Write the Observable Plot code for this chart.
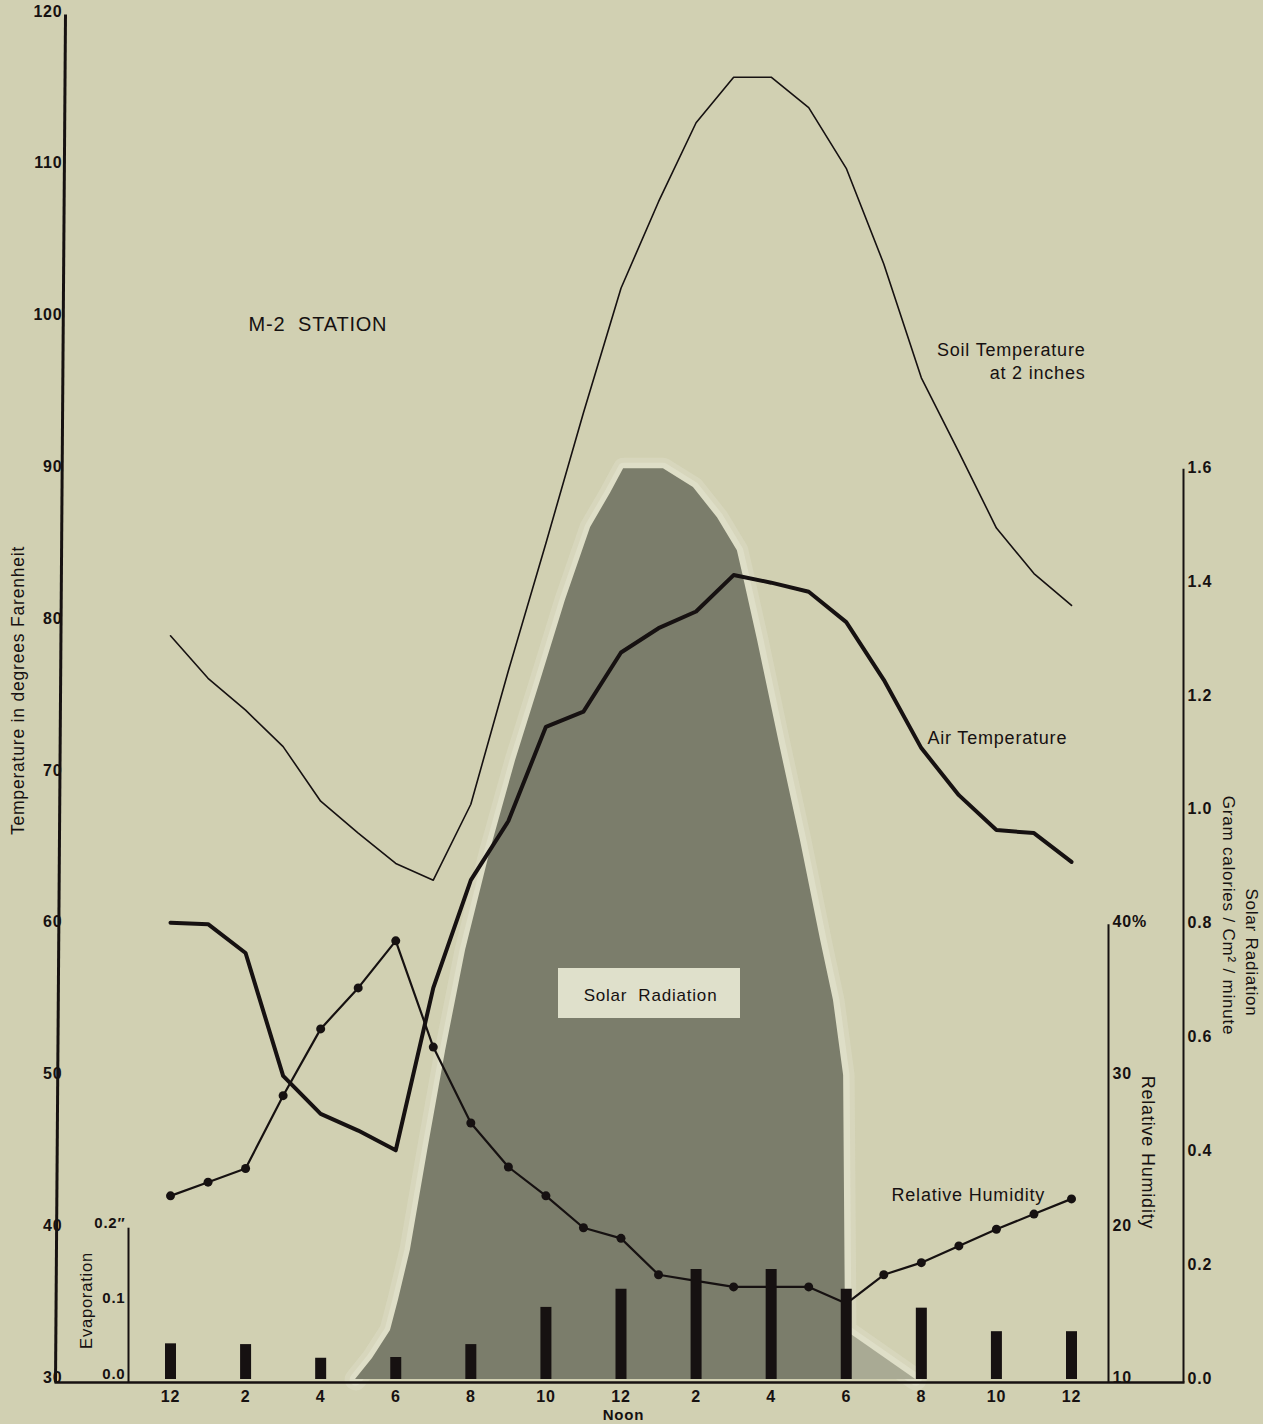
<!DOCTYPE html>
<html>
<head>
<meta charset="utf-8">
<script src="https://cdn.jsdelivr.net/npm/d3@7"></script>
<script src="https://cdn.jsdelivr.net/npm/@observablehq/plot@0.6"></script>
<style>
  html, body { margin: 0; padding: 0; background: #d1d0b2; }
  svg text { letter-spacing: 0.8px; }
</style>
</head>
<body>
<div id="chart"></div>
<script>
// ---------- data ----------
const hours = [0,1,2,3,4,5,6,7,8,9,10,11,12,13,14,15,16,17,18,19,20,21,22,23,24];
const soilTemp = [79.0,76.2,74.1,71.7,68.1,66.0,64.0,62.9,67.9,76.7,85.1,93.7,101.9,107.6,112.8,115.8,115.8,113.8,109.8,103.5,96.0,91.1,86.1,83.1,81.0];
const airTemp = [60.1,60.0,58.1,50.0,47.5,46.4,45.1,55.8,62.9,66.8,73.0,74.0,77.9,79.5,80.6,83.0,82.5,81.9,79.9,76.1,71.6,68.5,66.2,66.0,64.1];
const relHumidity = [22.1,23.0,23.9,28.7,33.1,35.8,38.9,31.9,26.9,24.0,22.1,20.0,19.3,16.9,16.5,16.1,16.1,16.1,15.0,16.9,17.7,18.8,19.9,20.9,21.9];
const evapHours = [0,2,4,6,8,10,12,14,16,18,20,22,24];
const evaporation = [0.047,0.046,0.028,0.029,0.046,0.095,0.119,0.145,0.145,0.119,0.094,0.063,0.063];
const solarHours = [4.93,5.38,5.86,6.07,6.39,6.85,7.33,7.86,8.52,9.19,9.86,10.52,11.19,11.72,12.07,13.13,13.93,14.57,15.10,15.24,15.64,16.20,16.78,17.32,17.66,17.93,17.98,19.85];
const solarValues = [0,0.037,0.086,0.139,0.227,0.402,0.578,0.754,0.929,1.087,1.228,1.369,1.497,1.557,1.600,1.600,1.567,1.514,1.456,1.416,1.298,1.123,0.947,0.771,0.666,0.534,0.086,0];
const tickHours = [0,2,4,6,8,10,12,14,16,18,20,22,24];
const tickLabels = ["12","2","4","6","8","10","12","2","4","6","8","10","12"];
const tempTicks = [30,40,50,60,70,80,90,100,110,120];
const solarTicks = [0,0.2,0.4,0.6,0.8,1.0,1.2,1.4,1.6];
const rhTicks = [10,20,30,40];
const rhLabels = ["10","20","30","40%"];
const evapTicks = [0,0.1,0.2];
const evapLabels = ["0.0","0.1","0.2\u2033"];

// ---------- secondary scales expressed on the temperature axis ----------
const rhToTemp = rh => rh + 20;
const solarToTemp = s => 30 + s * 37.5;
const evapToTemp = e => 30 + e * 50;

// pixel helpers for layout-only placement (labels, axis lines)
const X0 = 170, XPH = (1071 - 170) / 24;
const Y0 = 1379, YPD = (1379 - 13) / 90;
const hx = px => (px - X0) / XPH;
const ty = py => 30 + (Y0 - py) / YPD;

const ink = "#161111";
const font = "Liberation Sans, Arial, Helvetica, sans-serif";

const soil = hours.map((h, i) => ({h, v: soilTemp[i]}));
const air = hours.map((h, i) => ({h, v: airTemp[i]}));
const rh = hours.map((h, i) => ({h, v: rhToTemp(relHumidity[i])}));
const evap = evapHours.map((h, i) => ({h, v: evapToTemp(evaporation[i])}));
const solar = solarHours.map((h, i) => ({h, v: solarToTemp(solarValues[i])}));
const solarDark = solar.slice(0, solar.length - 1);
const solarTail = solar.slice(solar.length - 2);

const lbl = (t, px, py, opts = {}) => Plot.text([t], {x: hx(px), y: ty(py), text: d => d, fill: ink, fontFamily: font, fontSize: 16, ...opts});

const chart = Plot.plot({
  width: 1263,
  height: 1424,
  margin: 0,
  x: {domain: [0, 24], range: [X0, 1071], axis: null},
  y: {domain: [30, 120], range: [Y0, 13], axis: null},
  style: {background: "#d1d0b2", fontFamily: font, overflow: "visible"},
  marks: [
    // solar radiation halo + area
    Plot.line(solar, {x: "h", y: "v", stroke: "#e2e2cf", strokeWidth: 22, strokeLinejoin: "round", strokeOpacity: 0.35}),
    Plot.line(solar, {x: "h", y: "v", stroke: "#e2e2cf", strokeWidth: 12, strokeLinejoin: "round", strokeOpacity: 0.6}),
    Plot.areaY(solarDark, {x: "h", y1: solarToTemp(0), y2: "v", fill: "#7b7d6b"}),
    Plot.areaY(solarTail, {x: "h", y1: solarToTemp(0), y2: "v", fill: "#a9aa94"}),
    // solar radiation label box
    Plot.rect([0], {x1: hx(558), x2: hx(740), y1: ty(1018), y2: ty(968), fill: "#dfe0cb"}),
    lbl("Solar\u00a0 Radiation", 650, 995, {fontSize: 17}),
    // soil temperature
    Plot.line(soil, {x: "h", y: "v", stroke: ink, strokeWidth: 1.6}),
    // air temperature
    Plot.line(air, {x: "h", y: "v", stroke: ink, strokeWidth: 4, strokeLinejoin: "round"}),
    // relative humidity
    Plot.line(rh, {x: "h", y: "v", stroke: ink, strokeWidth: 2.2}),
    Plot.dot(rh, {x: "h", y: "v", r: 4.5, fill: ink}),
    // evaporation bars
    Plot.ruleX(evap, {x: "h", y1: evapToTemp(0), y2: "v", stroke: ink, strokeWidth: 11}),
    // axes lines
    Plot.link([0], {x1: hx(65), y1: ty(14), x2: hx(55), y2: ty(1382), stroke: ink, strokeWidth: 3}),
    Plot.link([0], {x1: hx(54), y1: ty(1382), x2: hx(1184), y2: ty(1382), stroke: ink, strokeWidth: 2.5}),
    Plot.link([0], {x1: hx(128), y1: evapToTemp(0.2), x2: hx(128), y2: ty(1382), stroke: ink, strokeWidth: 2}),
    Plot.link([0], {x1: hx(1108), y1: rhToTemp(40), x2: hx(1108), y2: ty(1382), stroke: ink, strokeWidth: 2}),
    Plot.link([0], {x1: hx(1183), y1: solarToTemp(1.6), x2: hx(1183), y2: ty(1382), stroke: ink, strokeWidth: 2}),
    // left temperature ticks
    Plot.text(tempTicks, {x: hx(62), y: d => d, text: d => String(d), textAnchor: "end", fill: ink, fontFamily: font, fontSize: 16, fontWeight: "bold", dy: -2}),
    // bottom hour ticks
    Plot.text(tickHours, {x: d => d, y: ty(1396), text: (d, i) => tickLabels[i], fill: ink, fontFamily: font, fontSize: 16, fontWeight: "bold"}),
    lbl("Noon", 623, 1415, {fontWeight: "bold", fontSize: 15}),
    // evaporation ticks
    Plot.text(evapTicks, {x: hx(125), y: d => evapToTemp(d), text: (d, i) => evapLabels[i], textAnchor: "end", fill: ink, fontFamily: font, fontSize: 15, fontWeight: "bold", dy: -5}),
    // relative humidity ticks
    Plot.text(rhTicks, {x: hx(1112), y: d => rhToTemp(d), text: (d, i) => rhLabels[i], textAnchor: "start", fill: ink, fontFamily: font, fontSize: 16, fontWeight: "bold", dy: -2}),
    // solar ticks
    Plot.text(solarTicks, {x: hx(1187), y: d => solarToTemp(d), text: d => d.toFixed(1), textAnchor: "start", fill: ink, fontFamily: font, fontSize: 16, fontWeight: "bold", dy: -1}),
    // axis titles
    lbl("Temperature in degrees Farenheit", 18, 690, {rotate: -90, fontSize: 17.5}),
    lbl("Evaporation", 86, 1300, {rotate: -90, fontSize: 16.5}),
    lbl("Relative Humidity", 1147, 1152, {rotate: 90, fontSize: 18}),
    lbl("Gram calories / Cm\u00b2 / minute", 1228, 915, {rotate: 90, fontSize: 17}),
    lbl("Solar Radiation", 1251, 952, {rotate: 90, fontSize: 17}),
    // annotations
    lbl("M-2\u00a0 STATION", 248, 324, {textAnchor: "start", fontSize: 20}),
    lbl("Soil Temperature", 1085, 350, {textAnchor: "end", fontSize: 18}),
    lbl("at 2 inches", 1085, 373, {textAnchor: "end", fontSize: 18}),
    lbl("Air Temperature", 927, 738, {textAnchor: "start", fontSize: 18}),
    lbl("Relative Humidity", 891, 1195, {textAnchor: "start", fontSize: 18})
  ]
});
document.getElementById("chart").appendChild(chart);
</script>
</body>
</html>
